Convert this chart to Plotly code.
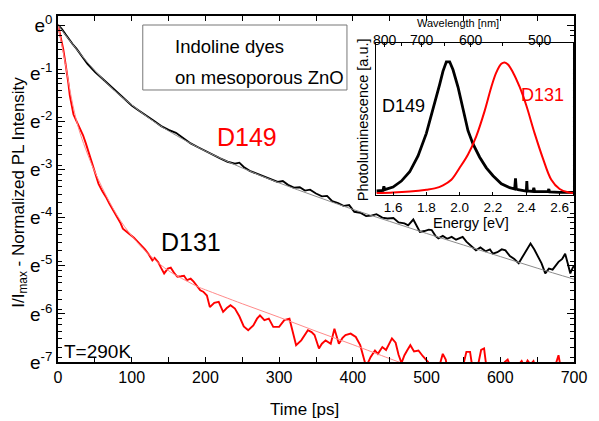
import plotly.graph_objects as go
import numpy as np

FONT = "Liberation Sans, Arial, sans-serif"

# ---- PL decay, D149 (ln of normalized intensity vs time) ----
d149_t = [0, 5, 10, 15, 20, 25, 30, 40, 50, 60, 70, 80, 90, 100, 110, 120, 130, 140, 150,
          160, 170, 180, 190, 200, 210, 220, 230, 240, 246, 252, 260, 270, 280, 290, 298,
          305, 312, 320, 328, 335, 342, 350, 358, 365, 372, 380, 388, 395, 402, 410, 418,
          425, 432, 440, 447, 455, 462, 470, 475, 482, 488, 491, 497, 503, 507, 512, 516,
          522, 528, 534, 540, 545, 549, 554, 560, 567, 573, 580, 586, 590, 596, 602, 607,
          613, 619, 625, 630, 635, 641, 646, 652, 656, 661, 666, 671, 676, 679, 684, 688,
          692, 695, 698, 700]
d149_ln = [0, -0.08, -0.19, -0.30, -0.40, -0.49, -0.60, -0.81, -0.97, -1.11, -1.25, -1.40,
           -1.55, -1.67, -1.78, -1.88, -1.99, -2.10, -2.18, -2.24, -2.35, -2.46, -2.54, -2.62,
           -2.70, -2.77, -2.84, -2.88, -2.86, -2.95, -3.03, -3.09, -3.14, -3.20, -3.26, -3.24,
           -3.32, -3.38, -3.37, -3.44, -3.42, -3.50, -3.56, -3.55, -3.66, -3.70, -3.76, -3.74,
           -3.88, -3.90, -3.97, -3.96, -3.93, -4.00, -4.02, -4.01, -4.10, -4.12, -4.16, -4.04,
           -4.20, -4.30, -4.28, -4.25, -4.26, -4.38, -4.43, -4.38, -4.44, -4.40, -4.46, -4.42,
           -4.40, -4.50, -4.58, -4.68, -4.62, -4.70, -4.66, -4.75, -4.72, -4.66, -4.68, -4.80,
           -4.86, -4.95, -4.82, -4.70, -4.54, -4.66, -4.85, -4.95, -5.16, -5.06, -5.08, -4.98,
           -4.92, -4.86, -4.75, -4.98, -5.16, -5.05, -5.00]

d149_fit_t = [0, 25, 50, 75, 100, 125, 150, 200, 250, 300, 350, 400, 450, 500, 550, 600, 650, 700]
d149_fit_ln = [0, -0.50, -0.95, -1.34, -1.66, -1.95, -2.20, -2.62, -2.97, -3.28, -3.56, -3.83,
               -4.08, -4.33, -4.57, -4.81, -5.05, -5.28]

# ---- PL decay, D131 ----
d131_t = [0, 3, 7, 10, 12, 14, 16, 18, 21, 24, 27, 30, 34, 38, 42, 46, 50, 55, 60, 65, 70,
          75, 80, 85, 88, 92, 97, 103, 108, 113, 118, 123, 128, 131, 136, 140, 144, 149, 153,
          158, 162, 167, 171, 175, 180, 184, 188, 193, 197, 202, 206, 212, 218, 224, 229, 234,
          240, 246, 252, 258, 265, 270, 274, 280, 286, 292, 300, 307, 314, 318, 323, 330, 339,
          344, 348, 354, 358, 363, 370, 375, 381, 386, 390, 397, 404, 410, 414, 418, 424, 430,
          434, 440, 445, 453, 458, 462, 466, 470, 474, 478, 483, 489, 495, 502, 506, 512, 518,
          522, 526, 530, 545, 550, 554, 559, 563, 570, 574, 578, 582, 600, 606, 610, 614, 620,
          625, 629, 633, 637, 641, 645, 650, 660, 670, 675, 679, 683, 700]
d131_ln = [0, -0.20, -0.49, -0.78, -0.96, -1.20, -1.46, -1.66, -1.86, -1.96, -2.05, -2.14,
           -2.29, -2.47, -2.66, -2.88, -3.08, -3.30, -3.45, -3.57, -3.72, -3.85, -3.98, -4.12,
           -4.23, -4.28, -4.33, -4.42, -4.50, -4.57, -4.66, -4.76, -4.89, -4.84, -4.93, -5.05,
           -5.16, -5.06, -5.04, -5.16, -5.23, -5.22, -5.21, -5.30, -5.27, -5.33, -5.42, -5.51,
           -5.54, -5.62, -5.86, -5.77, -5.75, -5.96, -5.88, -5.82, -5.89, -6.05, -6.26, -6.34,
           -6.24, -6.10, -6.03, -6.13, -6.10, -6.27, -6.27, -6.13, -6.10, -6.35, -6.65, -6.55,
           -6.34, -6.38, -6.44, -6.72, -6.62, -6.55, -6.62, -6.31, -6.62, -6.50, -6.44, -6.41,
           -6.48, -6.65, -6.85, -7.10, -6.90, -6.76, -6.83, -6.69, -6.75, -6.51, -6.60, -6.85,
           -7.02, -6.86, -6.75, -6.65, -6.78, -6.76, -6.88, -7.00, -7.20, -7.30, -7.05, -6.83,
           -6.95, -7.30, -7.30, -7.05, -6.79, -6.79, -7.20, -7.05, -6.75, -6.72, -7.20, -7.30,
           -7.00, -6.95, -7.10, -7.30, -7.05, -6.98, -7.10, -6.97, -7.05, -6.98, -7.20, -7.30,
           -7.30, -7.05, -6.86, -7.20, -7.30]

d131_fit_t = [0, 5, 10, 15, 20, 25, 30, 40, 50, 60, 70, 80, 90, 100, 115, 130, 145, 160, 175,
              190, 200, 250, 300, 350, 400, 450, 475]
d131_fit_ln = [0, -0.40, -0.80, -1.25, -1.65, -1.98, -2.25, -2.68, -3.05, -3.38, -3.68, -3.95,
               -4.18, -4.38, -4.64, -4.86, -5.05, -5.20, -5.32, -5.44, -5.50, -5.79, -6.07,
               -6.36, -6.64, -6.93, -7.07]

# ---- steady-state PL spectra (inset) ----
pl149_e = [1.50, 1.54, 1.545, 1.55, 1.60, 1.65, 1.70, 1.75, 1.80, 1.85, 1.88, 1.90, 1.92,
           1.94, 1.96, 1.99, 2.02, 2.05, 2.08, 2.12, 2.16, 2.20, 2.25, 2.30, 2.33, 2.335,
           2.34, 2.35, 2.40, 2.403, 2.406, 2.44, 2.445, 2.45, 2.50, 2.53, 2.535, 2.54,
           2.60, 2.68]
pl149_i = [0.015, 0.02, 0.05, 0.025, 0.045, 0.09, 0.16, 0.28, 0.45, 0.67, 0.82, 0.92, 0.99,
           0.99, 0.93, 0.80, 0.63, 0.47, 0.37, 0.27, 0.19, 0.13, 0.07, 0.04, 0.03, 0.11,
           0.03, 0.025, 0.015, 0.09, 0.015, 0.012, 0.04, 0.012, 0.01, 0.01, 0.03, 0.008,
           0.005, 0.005]

pl131_e = [1.50, 1.60, 1.70, 1.80, 1.85, 1.90, 1.95, 2.00, 2.05, 2.10, 2.15, 2.19, 2.22,
           2.25, 2.27, 2.29, 2.32, 2.36, 2.40, 2.45, 2.50, 2.55, 2.60, 2.65, 2.68]
pl131_i = [0.0, 0.004, 0.012, 0.025, 0.035, 0.058, 0.10, 0.19, 0.29, 0.43, 0.62, 0.80, 0.91,
           0.975, 0.985, 0.97, 0.91, 0.80, 0.66, 0.45, 0.26, 0.10, 0.03, 0.005, 0.0]

# axis tick definitions
y_major = [0, -1, -2, -3, -4, -5, -6, -7]
y_major_text = ["e<sup>0</sup>", "e<sup>-1</sup>", "e<sup>-2</sup>", "e<sup>-3</sup>",
                "e<sup>-4</sup>", "e<sup>-5</sup>", "e<sup>-6</sup>", "e<sup>-7</sup>"]
y_minor_factors = [0.4, 0.5, 0.6, 0.7, 0.8, 0.9]
energy_ticks = [1.6, 1.8, 2.0, 2.2, 2.4, 2.6]
wl_labels = [800, 700, 600, 500]
wl_minor = [750, 650, 550]

y_minor = [n + np.log(m) for n in y_major[:-1] for m in y_minor_factors]

fig = go.Figure()

fig.add_trace(go.Scatter(x=d149_t, y=d149_ln, mode="lines",
                         line=dict(color="black", width=1.9), showlegend=False))
fig.add_trace(go.Scatter(x=d131_t, y=d131_ln, mode="lines",
                         line=dict(color="#ff0000", width=1.9), showlegend=False))
fig.add_trace(go.Scatter(x=d149_fit_t, y=d149_fit_ln, mode="lines",
                         line=dict(color="#8c8c8c", width=1, shape="spline"), showlegend=False))
fig.add_trace(go.Scatter(x=d131_fit_t, y=d131_fit_ln, mode="lines",
                         line=dict(color="#ff8a8a", width=1, shape="spline"), showlegend=False))

# inset spectra
fig.add_trace(go.Scatter(x=pl149_e, y=pl149_i, mode="lines", xaxis="x2", yaxis="y2",
                         line=dict(color="black", width=2.8), showlegend=False))
fig.add_trace(go.Scatter(x=pl131_e, y=pl131_i, mode="lines", xaxis="x2", yaxis="y2",
                         line=dict(color="#ff0000", width=2, shape="spline"), showlegend=False))
fig.add_trace(go.Scatter(x=[1.6], y=[0.5], mode="markers", xaxis="x3", yaxis="y2",
                         marker=dict(opacity=0), hoverinfo="skip", showlegend=False))

e_range = [1.5, 2.68]
wl_vals = [1239.84 / w for w in wl_labels]
wl_minor_vals = [1239.84 / w for w in wl_minor]

fig.update_layout(
    width=599, height=421, autosize=False,
    margin=dict(l=58, r=21, t=16, b=59),
    paper_bgcolor="white", plot_bgcolor="white",
    font=dict(family=FONT, color="black"),
    xaxis=dict(range=[0, 700], tickvals=[0, 100, 200, 300, 400, 500, 600, 700],
               ticks="inside", ticklen=5, tickwidth=1.2, tickcolor="black",
               minor=dict(tickvals=[50, 150, 250, 350, 450, 550, 650], ticks="inside",
                          ticklen=5, tickwidth=1.2, tickcolor="black"),
               showline=True, linecolor="black", linewidth=1.5, mirror="ticks",
               showgrid=False, zeroline=False, tickfont=dict(size=16)),
    yaxis=dict(range=[-7, 0.187], tickvals=y_major, ticktext=y_major_text,
               ticks="inside", ticklen=7, tickwidth=1.2, tickcolor="black",
               minor=dict(tickvals=y_minor, ticks="inside", ticklen=4, tickwidth=1,
                          tickcolor="black"),
               showline=True, linecolor="black", linewidth=1.5, mirror="ticks",
               showgrid=False, zeroline=False, tickfont=dict(size=19)),
    xaxis2=dict(domain=[0.617, 0.998], anchor="y2", range=e_range,
                tickvals=energy_ticks, ticktext=[f"{v:.1f}" for v in energy_ticks],
                ticks="inside", ticklen=3, tickcolor="black",
                showline=True, linecolor="black", linewidth=1.2, mirror=True,
                showgrid=False, zeroline=False, tickfont=dict(size=13.5)),
    xaxis3=dict(overlaying="x2", anchor="y2", side="top", range=e_range,
                tickvals=wl_vals, showticklabels=False,
                ticks="inside", ticklen=4, tickcolor="black",
                minor=dict(tickvals=wl_minor_vals, ticks="inside", ticklen=3,
                           tickcolor="black"),
                showline=False, showgrid=False, zeroline=False),
    yaxis2=dict(domain=[0.4827, 0.922], anchor="x2", range=[-0.015, 1.132],
                showticklabels=False, ticks="",
                showline=True, linecolor="black", linewidth=1.2, mirror=True,
                showgrid=False, zeroline=False),
)

annotations = [
    dict(text="Time [ps]", x=0.477, y=-0.137, xref="paper", yref="paper",
         xanchor="center", yanchor="middle", showarrow=False, font=dict(size=17)),
    dict(text="I/I<sub>max</sub> - Normalized PL Intensity", x=-0.073, y=0.49,
         xref="paper", yref="paper", textangle=-90, xanchor="center", yanchor="middle",
         showarrow=False, font=dict(size=17)),
    dict(text="Indoline dyes", x=156, y=-0.45, xref="x", yref="y", showarrow=False,
         xanchor="left", yanchor="middle", font=dict(size=18.5)),
    dict(text="on mesoporous ZnO", x=156, y=-1.08, xref="x", yref="y", showarrow=False,
         xanchor="left", yanchor="middle", font=dict(size=18.5)),
    dict(text="D149", x=257, y=-2.33, xref="x", yref="y", showarrow=False,
         xanchor="center", yanchor="middle", font=dict(size=25, color="#ff0000")),
    dict(text="D131", x=181, y=-4.51, xref="x", yref="y", showarrow=False,
         xanchor="center", yanchor="middle", font=dict(size=25, color="black")),
    dict(text="T=290K", x=5, y=-6.78, xref="x", yref="y", showarrow=False,
         xanchor="left", yanchor="middle", font=dict(size=19)),
    dict(text="D149", x=1.665, y=0.66, xref="x2", yref="y2", showarrow=False,
         xanchor="center", yanchor="middle", font=dict(size=18, color="black")),
    dict(text="D131", x=2.50, y=0.74, xref="x2", yref="y2", showarrow=False,
         xanchor="center", yanchor="middle", font=dict(size=18, color="#ff0000")),
    dict(text="Photoluminescence [a.u.]", x=0.590, y=0.70, xref="paper", yref="paper",
         textangle=-90, xanchor="center", yanchor="middle", showarrow=False,
         font=dict(size=14.5)),
    dict(text="Energy [eV]", x=0.800, y=0.402, xref="paper", yref="paper",
         xanchor="center", yanchor="middle", showarrow=False, font=dict(size=14.5)),
    dict(text="Wavelength [nm]", x=0.775, y=0.981, xref="paper", yref="paper",
         xanchor="center", yanchor="middle", showarrow=False, font=dict(size=11)),
]
# wavelength scale labels along the inset's top edge
for w, e in zip(wl_labels, wl_vals):
    annotations.append(dict(text=str(w), x=e, y=0.931, xref="x2", yref="paper",
                            xanchor="center", yanchor="middle", showarrow=False,
                            font=dict(size=14)))
fig.update_layout(annotations=annotations)

# framed caption box
fig.add_shape(type="rect", xref="x", yref="y", x0=115, x1=392, y0=-1.35, y1=-0.0,
              line=dict(color="#777777", width=1), fillcolor="rgba(0,0,0,0)")

fig.write_html("out.html")
